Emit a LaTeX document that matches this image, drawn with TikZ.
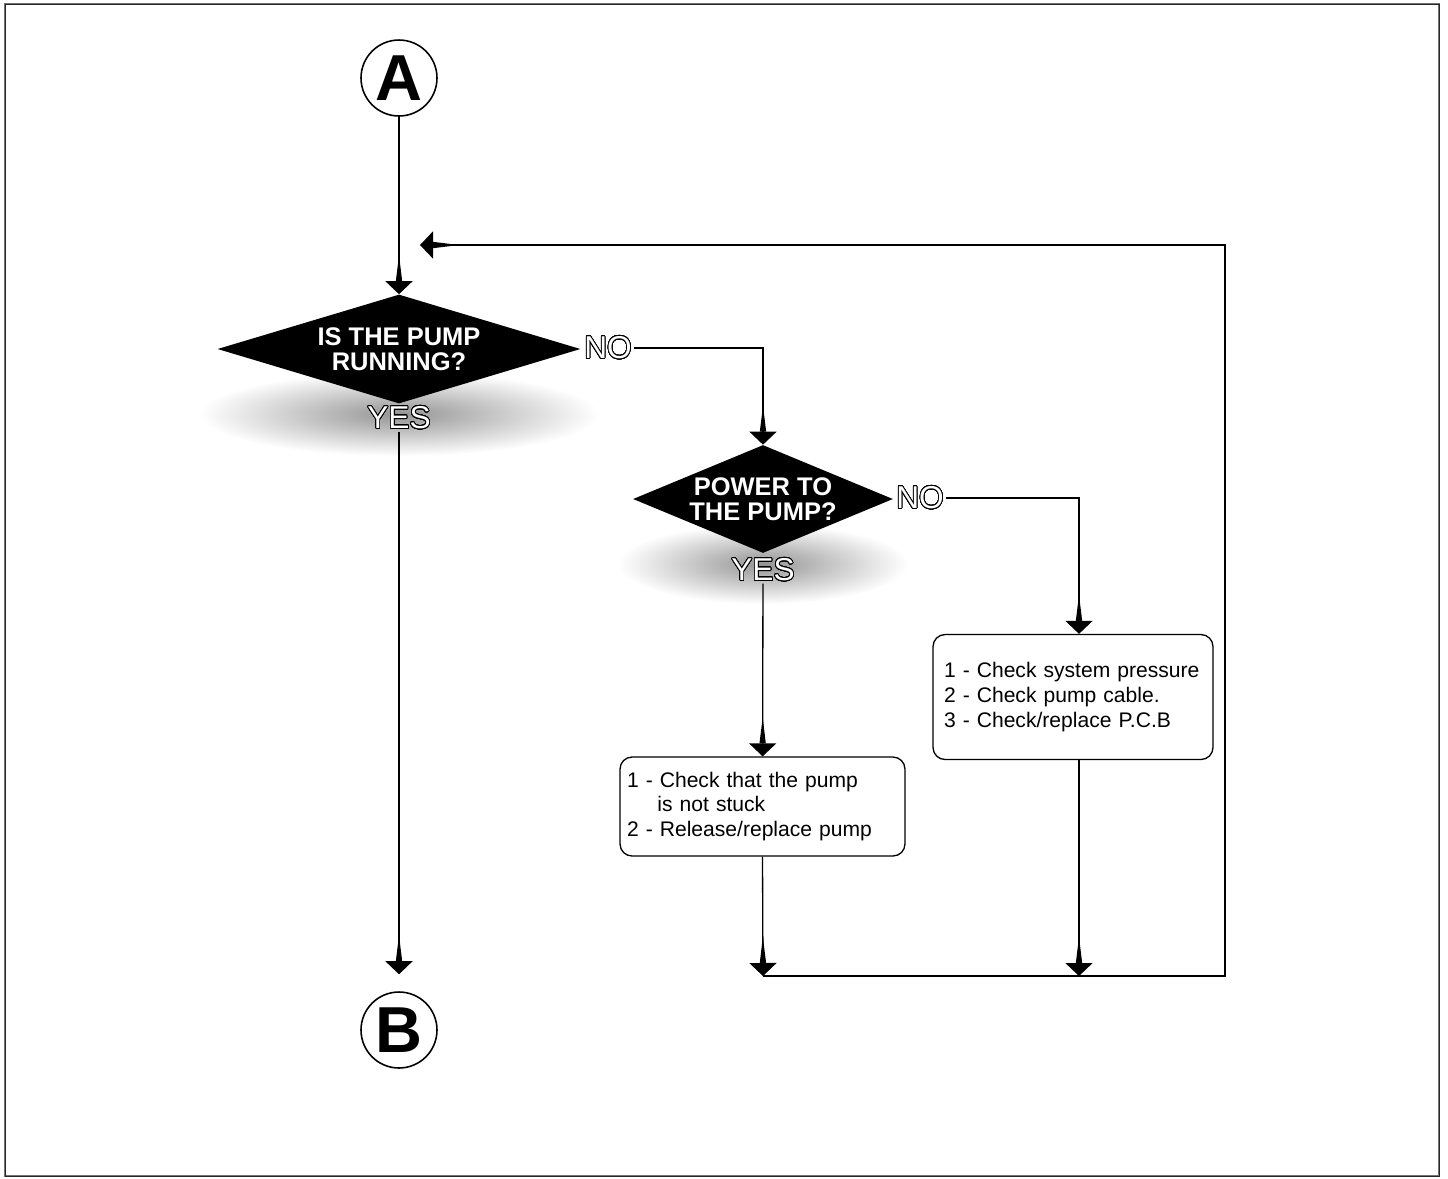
\documentclass[tikz,border=0pt]{standalone}
\usepackage{fontspec}
\setmainfont{Liberation Sans}
\usepackage{contour}
\usetikzlibrary{arrows.meta, shapes.geometric, positioning}
\contourlength{0.45pt}
\contournumber{32}

\begin{document}
\begin{tikzpicture}[x=0.02cm, y=-0.02cm,
    arr/.style={draw=black, line width=0.75pt,
      -{Triangle[reversed,width=3.4pt,length=15pt,sep=0pt]Triangle[width=15.4pt,length=7.4pt,sep=0pt]}},
    conn/.style={circle, draw=black, line width=0.9pt, minimum size=1.52cm,
      inner sep=0pt, font=\fontsize{37}{37}\selectfont\bfseries},
    dec/.style={diamond, fill=black, inner sep=0pt, text=white, align=center,
      font=\fontsize{14.5}{14.2}\selectfont\bfseries},
    ans/.style={inner sep=1pt, text=white, font=\fontsize{18}{18}\selectfont},
    act/.style={rectangle, rounded corners=0.24cm, draw=black, line width=0.75pt,
      align=left, font=\fontsize{12}{14.2}\selectfont},
    frame/.style={draw=black!55, line width=1.6pt}
  ]
  \useasboundingbox (0,0) rectangle (1448,1178);
  \draw[frame] (5,4) rectangle (1439,1176);
  \draw[black!85, line width=0.4pt] (5,4) rectangle (1439,1176);

  % shadows under the decisions
  \shade[inner color=black!42, outer color=white] (399,414) ellipse [x radius=200, y radius=42];
  \shade[inner color=black!42, outer color=white] (763,564) ellipse [x radius=145, y radius=40];

  \node[conn] (A) at (399,78) {A};
  \node[conn] (B) at (399,1030) {B};
  \node[dec, aspect=3.33, minimum width=7.26cm, minimum height=2.18cm] (d1) at (399,349)
    {IS THE PUMP\\RUNNING?};
  \node[dec, aspect=2.4, minimum width=5.2cm, minimum height=2.16cm] (d2) at (763,499)
    {POWER TO\\THE PUMP?};
  \node[ans] (no1) at (608,348) {\contour{black}{NO}};
  \node[ans] (yes1) at (399,418) {\contour{black}{YES}};
  \node[ans] (no2) at (920,498) {\contour{black}{NO}};
  \node[ans] (yes2) at (763,570) {\contour{black}{YES}};
  \node[act, minimum width=5.7cm, minimum height=1.98cm, inner xsep=0.14cm,
    text width=5.42cm] (box1) at (762.5,806.5)
    {1 - Check that the pump\\\hspace*{1.445em}is not stuck\\2 - Release/replace pump};
  \node[act, minimum width=5.6cm, minimum height=2.5cm, inner xsep=0.22cm,
    text width=5.16cm] (box2) at (1073,697)
    {1 - Check system pressure\\2 - Check pump cable.\\3 - Check/replace P.C.B};

  \coordinate (m1) at (763,976);
  \coordinate (m2) at (1079,976);
  \coordinate (rc) at (1225,976);
  \coordinate (ret) at (420,245);

  \draw[arr] (A) -- (d1);
  \draw[arr] (no1.east) -| (d2.north);
  \draw[arr, shorten >=0.34cm] (yes1) -- (B);
  \draw[arr] (yes2) -- (box1);
  \draw[arr] (no2.east) -| (box2.north -| m2);
  \draw[arr] (box1.south) -- (m1);
  \draw[arr] (box2.south -| m2) -- (m2);
  \draw[arr] (m1) -- (rc) |- (ret);
\end{tikzpicture}
\end{document}
